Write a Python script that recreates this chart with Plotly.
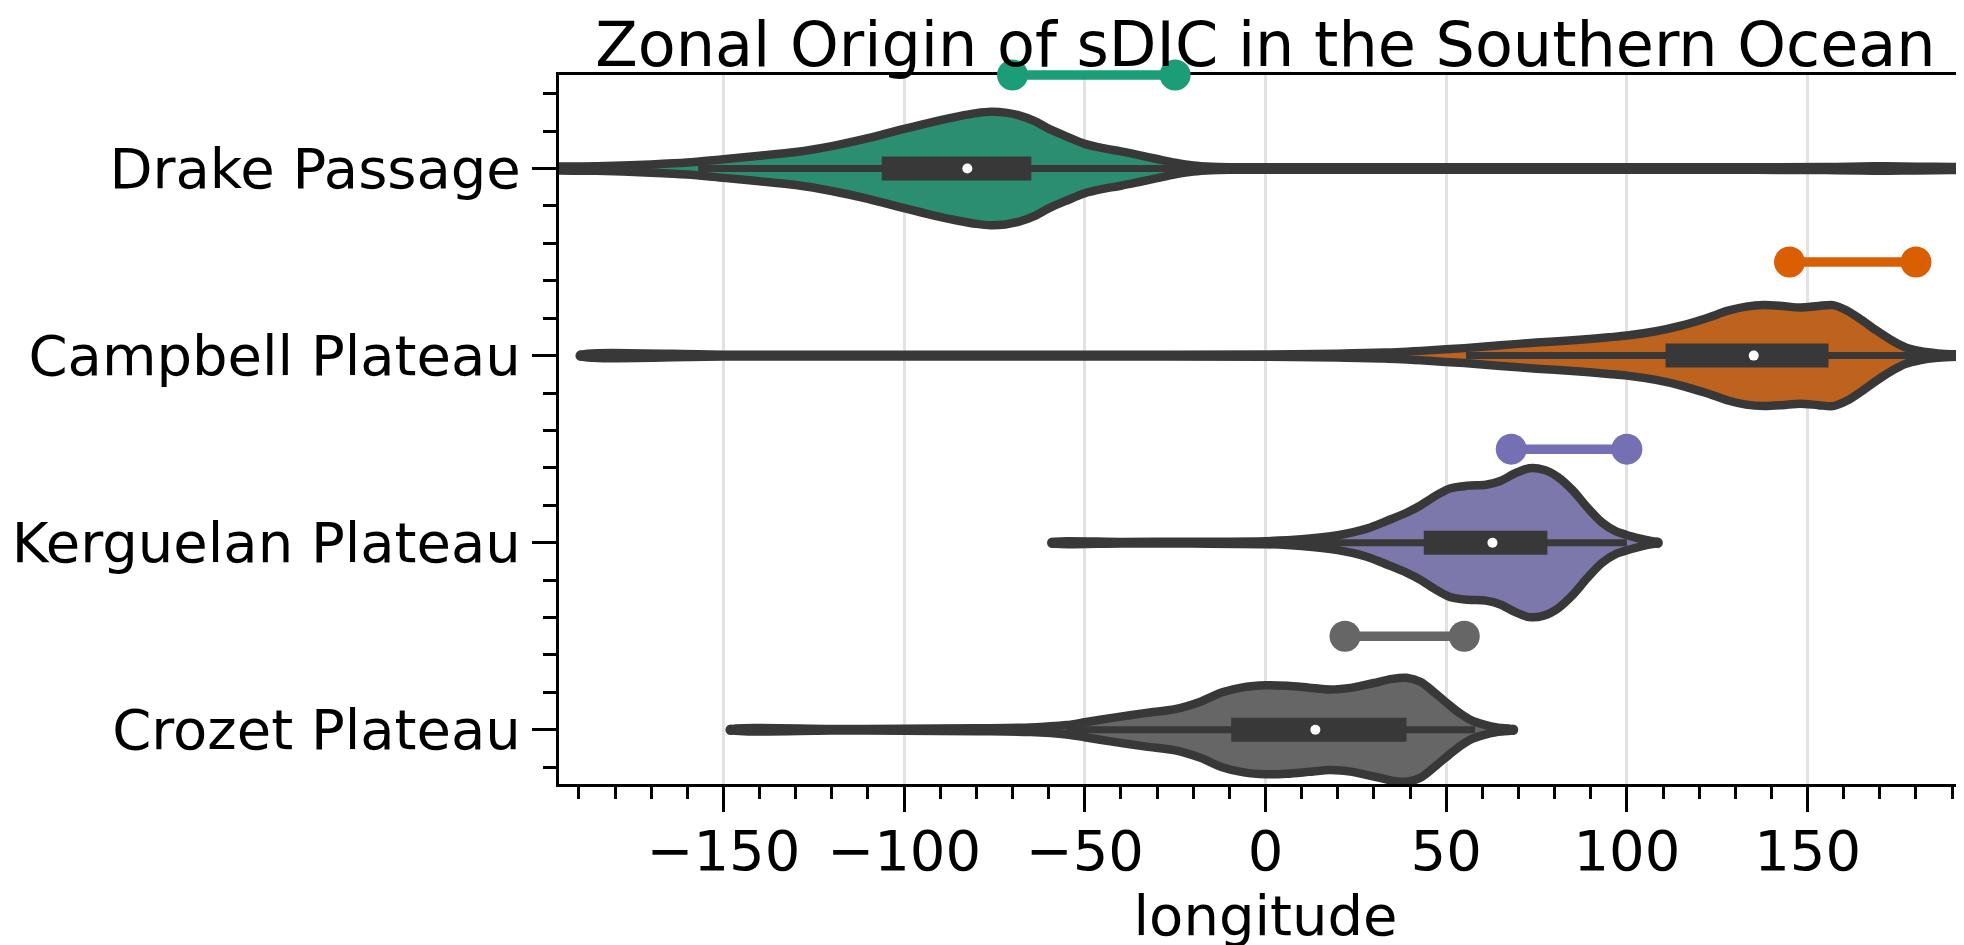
import plotly.graph_objects as go

# ---------------- data ----------------
regions = ["Drake Passage", "Campbell Plateau", "Kerguelan Plateau", "Crozet Plateau"]
ypos = [0, 1, 2, 3]
palette = ["#1b9e77", "#d95f02", "#7570b3", "#666666"]      # Dark2
fills = ["#2b8e70", "#be631d", "#7c78ab", "#666666"]        # desaturated (0.75)

# violin outlines: longitude and half-width (in category units)
drake_lon = [-200, -185, -170, -160, -150, -140, -130, -120, -110, -100, -92, -85, -80, -76,
             -72, -68, -64, -60, -55, -50, -45, -40, -35, -30, -25, -20, -15, -10, 0, 40,
             80, 120, 155, 165, 172, 180, 190, 200]
drake_hw = [0.004, 0.012, 0.022, 0.032, 0.05, 0.068, 0.088, 0.12, 0.162, 0.212, 0.25, 0.279,
            0.296, 0.303, 0.299, 0.283, 0.255, 0.213, 0.171, 0.132, 0.109, 0.092, 0.072, 0.051,
            0.031, 0.016, 0.009, 0.007, 0.007, 0.007, 0.007, 0.007, 0.008, 0.011, 0.012, 0.01,
            0.008, 0.007]

campbell_lon = [-189.5, -150, -100, -50, 0, 20, 33, 45, 55, 65, 75, 85, 95, 100, 108, 115, 122,
                128, 133, 138, 143, 148, 153, 157, 161, 165, 169, 173, 177, 181, 186, 192, 198]
campbell_hw = [0.005, 0.005, 0.005, 0.005, 0.006, 0.01, 0.016, 0.028, 0.04, 0.055, 0.07, 0.082,
               0.098, 0.107, 0.13, 0.16, 0.2, 0.24, 0.262, 0.27, 0.265, 0.257, 0.265, 0.27,
               0.24, 0.19, 0.135, 0.085, 0.045, 0.025, 0.012, 0.006, 0.005]

kerguelan_lon = [-59, -40, -20, 0, 10, 20, 28, 34, 39, 43, 47, 51, 56, 61, 65, 69, 73, 77, 81,
                 85, 89, 93, 97, 101, 104, 107, 108.5]
kerguelan_hw = [0.003, 0.004, 0.005, 0.008, 0.018, 0.04, 0.075, 0.12, 0.16, 0.2, 0.25, 0.29,
                0.305, 0.31, 0.33, 0.37, 0.398, 0.39, 0.35, 0.28, 0.19, 0.11, 0.06, 0.035,
                0.02, 0.008, 0.003]

crozet_lon = [-148, -120, -100, -80, -65, -55, -50, -42, -33, -25, -18, -12, -6, 0, 6, 12, 18,
              24, 30, 35, 39, 43, 47, 51, 54, 57, 60, 64, 68.5]
crozet_hw = [0.003, 0.004, 0.005, 0.008, 0.012, 0.025, 0.04, 0.065, 0.09, 0.11, 0.15, 0.2,
             0.228, 0.238, 0.235, 0.225, 0.215, 0.225, 0.25, 0.272, 0.278, 0.255, 0.195, 0.13,
             0.085, 0.05, 0.03, 0.012, 0.003]

violin_lon = [drake_lon, campbell_lon, kerguelan_lon, crozet_lon]
violin_hw = [drake_hw, campbell_hw, kerguelan_hw, crozet_hw]

# inner box statistics (longitude)
q1 = [-106.2, 110.7, 43.8, -9.5]
median = [-82.5, 135.1, 62.8, 13.8]
q3 = [-64.8, 155.8, 78.0, 39.0]
whisk_lo = [-157, 55.5, 4.5, -55]
whisk_hi = [-3, 185, 100, 58]

# zonal extent of each region (dumbbells)
range_lo = [-70, 145, 68, 22]
range_hi = [-25, 180, 100, 55]

xticks = [-150, -100, -50, 0, 50, 100, 150]

# ---------------- styles ----------------
EDGE = "#383838"
OUTLINE_W = 8.5
FONT = "DejaVu Sans"
XR = [-195.5, 195.5]
YR = [3.29, -0.5]

fig = go.Figure()

for i in range(len(regions)):
    lon = violin_lon[i]
    hw = violin_hw[i]
    c = ypos[i]
    xs = list(lon) + list(lon[::-1]) + [lon[0]]
    ys = [c - h for h in hw] + [c + h for h in hw[::-1]] + [c - hw[0]]
    fig.add_trace(go.Scatter(
        x=xs, y=ys, mode="lines", fill="toself", fillcolor=fills[i],
        line=dict(color=EDGE, width=OUTLINE_W, shape="spline", smoothing=0.8),
        hoverinfo="skip"))
    # rounded tips of the violin tails
    fig.add_trace(go.Scatter(
        x=[lon[0], lon[-1]], y=[c, c], mode="markers",
        marker=dict(size=OUTLINE_W + 2, color=EDGE, line=dict(width=0)),
        hoverinfo="skip"))
    # whisker
    fig.add_trace(go.Scatter(
        x=[whisk_lo[i], whisk_hi[i]], y=[c, c], mode="lines",
        line=dict(color=EDGE, width=7), hoverinfo="skip"))
    # box
    fig.add_trace(go.Scatter(
        x=[q1[i], q3[i]], y=[c, c], mode="lines",
        line=dict(color=EDGE, width=24), hoverinfo="skip"))
    # median
    fig.add_trace(go.Scatter(
        x=[median[i]], y=[c], mode="markers",
        marker=dict(size=10, color="white", line=dict(width=0)), hoverinfo="skip"))

# dumbbells: line as unclipped shape (paper y), end points as markers
for i in range(len(regions)):
    yy = ypos[i] - 0.5
    py = (YR[0] - yy) / (YR[0] - YR[1])
    fig.add_shape(type="line", xref="x", yref="paper",
                  x0=range_lo[i], x1=range_hi[i], y0=py, y1=py,
                  line=dict(color=palette[i], width=9.5), layer="above")
    fig.add_trace(go.Scatter(
        x=[range_lo[i], range_hi[i]], y=[yy, yy], mode="markers",
        marker=dict(size=31, color=palette[i], line=dict(width=0)),
        cliponaxis=False, hoverinfo="skip"))

fig.update_layout(
    width=1964, height=945,
    margin=dict(l=551, r=0, t=67, b=169),
    plot_bgcolor="white", paper_bgcolor="white",
    showlegend=False,
    font=dict(family=FONT, color="black"),
    title=dict(text="Zonal Origin of sDIC in the Southern Ocean",
               font=dict(family=FONT, size=62, color="black"),
               x=0.5, xref="paper", xanchor="center",
               y=1 - 36 / 945, yref="container", yanchor="middle"),
)

fig.update_xaxes(
    range=XR,
    tickmode="array", tickvals=xticks, ticktext=[str(v).replace("-", "\u2212") for v in xticks],
    ticks="outside", ticklen=25, tickwidth=3, tickcolor="black",
    tickfont=dict(family=FONT, size=56, color="black"),
    ticklabelstandoff=-9,
    showline=True, linewidth=3, linecolor="black", mirror=True,
    showgrid=True, gridcolor="#e2e2e2", gridwidth=3,
    zeroline=False,
    minor=dict(tickmode="linear", tick0=0, dtick=10, ticks="outside", ticklen=12,
               tickwidth=2.5, tickcolor="black", showgrid=False),
    title=dict(text="longitude", font=dict(family=FONT, size=56, color="black"), standoff=6),
    layer="below traces",
)

fig.update_yaxes(
    range=YR,
    tickmode="array", tickvals=ypos, ticktext=regions,
    ticks="outside", ticklen=24, tickwidth=3, tickcolor="black",
    tickfont=dict(family=FONT, size=56, color="black"),
    showline=True, linewidth=3, linecolor="black",
    showgrid=False, zeroline=False,
    minor=dict(tickmode="linear", tick0=0, dtick=0.2, ticks="outside", ticklen=13,
               tickwidth=2.5, tickcolor="black", showgrid=False),
    layer="below traces",
)

fig.write_html("out.html")
